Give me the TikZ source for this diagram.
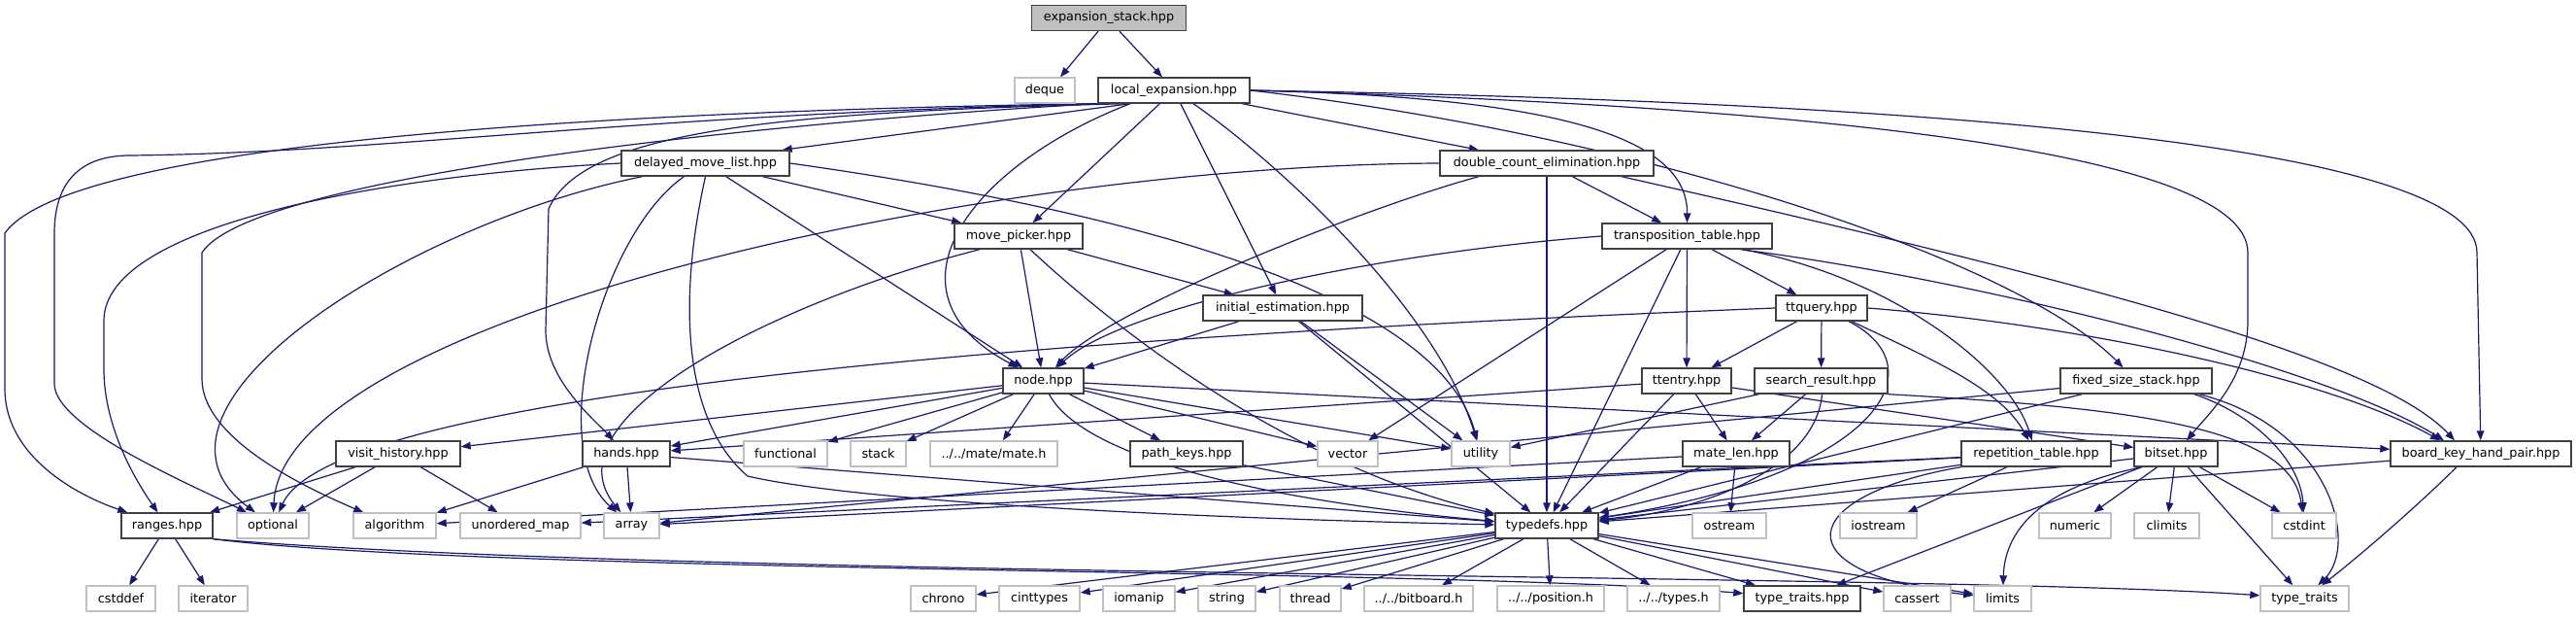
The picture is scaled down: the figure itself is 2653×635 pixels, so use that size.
\documentclass[tikz,border=0pt]{standalone}
\usepackage{fontspec}
\setmainfont{DejaVu Sans}
\usepackage{tikz}
\usetikzlibrary{arrows.meta, backgrounds}
\usepackage{xcolor}
\definecolor{incBlue}{HTML}{191970}
\definecolor{hdrGray}{HTML}{404040}
\definecolor{sysGray}{HTML}{BFBFBF}
\definecolor{rootFill}{HTML}{BFBFBF}

\begin{document}
\begin{tikzpicture}[
    x=1pt, y=-1pt,
    hdr/.style={rectangle, draw=hdrGray, line width=1.4pt, fill=white, minimum height=26pt, inner sep=0pt, font=\fontsize{12.8pt}{15pt}\selectfont},
    sys/.style={hdr, draw=sysGray},
    rootfile/.style={hdr, fill=rootFill},
    dep/.style={draw=incBlue, line width=1.2pt, -{Triangle[length=10pt, width=7.5pt]}},
]
    \useasboundingbox (0,0) rectangle (2653,635);

    \node[rootfile, minimum width=159pt] (es) at (1142,18.5) {expansion\_stack.hpp};
    \node[sys, minimum width=62pt] (deque) at (1076,93) {deque};
    \node[hdr, minimum width=156pt] (le) at (1209,93) {local\_expansion.hpp};
    \node[hdr, minimum width=173pt] (dml) at (726.5,168) {delayed\_move\_list.hpp};
    \node[hdr, minimum width=220pt] (dce) at (1593,168) {double\_count\_elimination.hpp};
    \node[hdr, minimum width=132pt] (mp) at (1049,243) {move\_picker.hpp};
    \node[hdr, minimum width=175pt] (tt) at (1737.5,243) {transposition\_table.hpp};
    \node[hdr, minimum width=164pt] (ie) at (1321,317) {initial\_estimation.hpp};
    \node[hdr, minimum width=94pt] (ttq) at (1876,317) {ttquery.hpp};
    \node[hdr, minimum width=83pt] (nd) at (1074.5,392) {node.hpp};
    \node[hdr, minimum width=92pt] (tte) at (1737,392) {ttentry.hpp};
    \node[hdr, minimum width=137pt] (sr) at (1875.5,392) {search\_result.hpp};
    \node[hdr, minimum width=156pt] (fss) at (2200,392) {fixed\_size\_stack.hpp};
    \node[hdr, minimum width=128pt] (vh) at (410,467) {visit\_history.hpp};
    \node[hdr, minimum width=90pt] (hands) at (645,467) {hands.hpp};
    \node[sys, minimum width=86pt] (functional) at (809,467) {functional};
    \node[sys, minimum width=57pt] (stack) at (904.5,467) {stack};
    \node[sys, minimum width=131pt] (mate) at (1023.5,467) {../../mate/mate.h};
    \node[hdr, minimum width=116pt] (pk) at (1222,467) {path\_keys.hpp};
    \node[sys, minimum width=62pt] (vector) at (1388,467) {vector};
    \node[sys, minimum width=60pt] (utility) at (1525,467) {utility};
    \node[hdr, minimum width=110pt] (ml) at (1788,467) {mate\_len.hpp};
    \node[hdr, minimum width=154pt] (rt) at (2097,467) {repetition\_table.hpp};
    \node[hdr, minimum width=86pt] (bs) at (2241,467) {bitset.hpp};
    \node[hdr, minimum width=186pt] (bkhp) at (2555,467) {board\_key\_hand\_pair.hpp};
    \node[hdr, minimum width=94pt] (rg) at (172,541) {ranges.hpp};
    \node[sys, minimum width=74pt] (optional) at (281,541) {optional};
    \node[sys, minimum width=85pt] (algorithm) at (406.5,541) {algorithm};
    \node[sys, minimum width=124pt] (umap) at (536,541) {unordered\_map};
    \node[sys, minimum width=57pt] (array) at (650.5,541) {array};
    \node[hdr, minimum width=106pt] (td) at (1593,541) {typedefs.hpp};
    \node[sys, minimum width=76pt] (ostream) at (1781,541) {ostream};
    \node[sys, minimum width=79pt] (iostream) at (1934.5,541) {iostream};
    \node[sys, minimum width=74pt] (numeric) at (2137,541) {numeric};
    \node[sys, minimum width=67pt] (climits) at (2231.5,541) {climits};
    \node[sys, minimum width=66pt] (cstdint) at (2373,541) {cstdint};
    \node[sys, minimum width=71pt] (cstddef) at (124.5,616) {cstddef};
    \node[sys, minimum width=71pt] (iterator) at (219.5,616) {iterator};
    \node[sys, minimum width=67pt] (chrono) at (971.5,616) {chrono};
    \node[sys, minimum width=83pt] (cinttypes) at (1070.5,616) {cinttypes};
    \node[sys, minimum width=74pt] (iomanip) at (1173,616) {iomanip};
    \node[sys, minimum width=59pt] (string) at (1263.5,616) {string};
    \node[sys, minimum width=63pt] (thread) at (1349.5,616) {thread};
    \node[sys, minimum width=112pt] (bitboard) at (1461,616) {../../bitboard.h};
    \node[sys, minimum width=110pt] (position) at (1597,616) {../../position.h};
    \node[sys, minimum width=95pt] (types) at (1723.5,616) {../../types.h};
    \node[hdr, minimum width=120pt] (tth) at (1856,616) {type\_traits.hpp};
    \node[sys, minimum width=69pt] (cassert) at (1974.5,616) {cassert};
    \node[sys, minimum width=59pt] (limits) at (2062.5,616) {limits};
    \node[sys, minimum width=91pt] (typetraits) at (2373.5,616) {type\_traits};

    \begin{scope}[on background layer]
    \fill[white] (0,0) rectangle (2653,635);
    % expansion_stack.hpp
    \draw[dep] ([xshift=-11pt]es.south) -- ([xshift=16pt]deque.north);
    \draw[dep] ([xshift=11pt]es.south) -- ([xshift=-12pt]le.north);
    % local_expansion.hpp
    \draw[dep] (le.south west) .. controls (700,113) and (76,140) .. (5,240) -- (5,400) .. controls (5,470) and (80,510) .. (rg);
    \draw[dep] (le.south west) .. controls (650,118) and (400,157) .. (134,160) .. controls (80,160) and (56,190) .. (56,240) -- (56,395) .. controls (56,440) and (200,500) .. (optional);
    \draw[dep] (le.south west) .. controls (800,125) and (260,180) .. (208,260) -- (208,390) .. controls (208,450) and (310,500) .. (algorithm);
    \draw[dep] ([xshift=-48pt]le.south) .. controls (800,115) and (600,135) .. (565,215) -- (562,340) .. controls (562,390) and (610,430) .. (hands);
    \draw[dep] ([xshift=-45pt]le.south) -- ([xshift=-8pt]dml.north east);
    \draw[dep] ([xshift=-45pt]le.south) .. controls (1000,170) and (900,300) .. (nd);
    \draw[dep] (le) -- (mp);
    \draw[dep] (le) -- (ie);
    \draw[dep] ([xshift=20pt]le.south) .. controls (1320,170) and (1480,320) .. (utility);
    \draw[dep] (le) -- (dce);
    \draw[dep] (le.east) .. controls (1600,100) and (1738,140) .. (tt);
    \draw[dep] (le.east) .. controls (1700,140) and (2080,270) .. (fss);
    \draw[dep] (le.east) .. controls (1900,110) and (2315,160) .. (2315,260) -- (2315,330) .. controls (2315,390) and (2275,425) .. (bs);
    \draw[dep] (le.east) .. controls (2000,105) and (2551,150) .. (2551,260) -- (bkhp);
    % delayed_move_list.hpp
    \draw[dep] (dml.west) .. controls (400,180) and (107,230) .. (107,330) -- (107,380) .. controls (107,440) and (140,495) .. (rg);
    \draw[dep] ([xshift=-65pt]dml.south) .. controls (420,230) and (120,420) .. (optional);
    \draw[dep] ([xshift=-22pt]dml.south) .. controls (620,240) and (560,460) .. (array);
    \draw[dep] (dml) -- (nd);
    \draw[dep] (dml) -- (mp);
    \draw[dep] (dml.south) .. controls (700,300) and (700,430) .. (770,490) .. controls (900,520) and (1300,535) .. (td);
    \draw[dep] (dml.east) .. controls (1150,215) and (1480,300) .. (utility);
    % move_picker.hpp
    \draw[dep] ([xshift=-40pt]mp.south) .. controls (800,310) and (560,430) .. (array);
    \draw[dep] (mp) -- (nd);
    \draw[dep] ([xshift=12pt]mp.south) .. controls (1150,340) and (1330,480) .. (td);
    \draw[dep] (mp) -- (ie);
    % initial_estimation.hpp
    \draw[dep] (ie) -- (nd);
    \draw[dep] (ie) -- (utility);
    \draw[dep] (ie) -- (td);
    % double_count_elimination.hpp
    \draw[dep] (dce.west) .. controls (1000,170) and (290,330) .. (optional);
    \draw[dep] ([xshift=-70pt]dce.south) .. controls (1400,215) and (1140,320) .. (nd);
    \draw[dep] (dce) -- (td);
    \draw[dep] (dce) -- (tt);
    \draw[dep] ([xshift=77pt]dce.south) .. controls (2150,290) and (2450,370) .. ([xshift=-27pt]bkhp.north);
    % transposition_table.hpp
    \draw[dep] (tt.west) .. controls (1400,262) and (1150,320) .. (nd);
    \draw[dep] (tt) -- (vector);
    \draw[dep] (tt) -- (td);
    \draw[dep] (tt) -- (tte);
    \draw[dep] (tt) -- (ttq);
    \draw[dep] ([xshift=57pt]tt.south) .. controls (1950,285) and (2070,380) .. (rt);
    \draw[dep] ([xshift=55pt]tt.south) .. controls (2050,290) and (2400,380) .. ([xshift=-38pt]bkhp.north);
    % ttquery.hpp
    \draw[dep] (ttq.west) .. controls (1000,350) and (340,410) .. (optional);
    \draw[dep] (ttq) -- (tte);
    \draw[dep] (ttq) -- (sr);
    \draw[dep] ([xshift=28pt]ttq.south) .. controls (2000,380) and (1930,490) .. (td);
    \draw[dep] ([xshift=31pt]ttq.south) .. controls (1990,370) and (2060,400) .. (rt);
    \draw[dep] (ttq.east) .. controls (2150,335) and (2400,390) .. ([xshift=-42pt]bkhp.north);
    % ttentry.hpp
    \draw[dep] (tte) -- (hands);
    \draw[dep] (tte) -- (td);
    \draw[dep] (tte) -- (ml);
    \draw[dep] (tte) -- (bs);
    % search_result.hpp
    \draw[dep] (sr) -- (utility);
    \draw[dep] (sr) -- (ml);
    \draw[dep] ([xshift=1pt]sr.south) .. controls (1870,480) and (1760,525) .. (td);
    \draw[dep] (sr.south east) .. controls (2200,420) and (2360,440) .. (cstdint);
    % mate_len.hpp
    \draw[dep] (ml) -- (algorithm);
    \draw[dep] (ml) -- (ostream);
    \draw[dep] (ml) -- (td);
    % node.hpp
    \draw[dep] (nd) -- (vh);
    \draw[dep] (nd) -- (hands);
    \draw[dep] (nd) -- (functional);
    \draw[dep] (nd) -- (stack);
    \draw[dep] (nd) -- (mate);
    \draw[dep] ([xshift=6pt]nd.south) .. controls (1120,480) and (1350,520) .. (td);
    \draw[dep] (nd) -- (pk);
    \draw[dep] (nd) -- (vector);
    \draw[dep] (nd) -- (utility);
    \draw[dep] (nd) -- (bkhp);
    % visit_history.hpp
    \draw[dep] (vh) -- (rg);
    \draw[dep] (vh) -- (optional);
    \draw[dep] (vh) -- (umap);
    % hands.hpp
    \draw[dep] (hands) -- (algorithm);
    \draw[dep] (hands) -- (array);
    \draw[dep] (hands) -- (td);
    % path_keys.hpp
    \draw[dep] (pk) -- (td);
    % repetition_table.hpp
    \draw[dep] (rt) -- (umap);
    \draw[dep] (rt) -- (array);
    \draw[dep] (rt) -- (td);
    \draw[dep] (rt) -- (iostream);
    \draw[dep] (rt.south west) .. controls (1850,510) and (1830,590) .. (limits);
    % bitset.hpp
    \draw[dep] (bs) -- (td);
    \draw[dep] (bs) -- (tth);
    \draw[dep] ([xshift=-35pt]bs.south) .. controls (2110,500) and (2065,540) .. (limits);
    \draw[dep] (bs) -- (numeric);
    \draw[dep] (bs) -- (climits);
    \draw[dep] (bs) -- (typetraits);
    \draw[dep] (bs) -- (cstdint);
    % board_key_hand_pair.hpp
    \draw[dep] (bkhp) -- (td);
    \draw[dep] ([xshift=-25pt]bkhp.south) .. controls (2480,530) and (2420,580) .. (typetraits);
    % fixed_size_stack.hpp
    \draw[dep] (fss) -- (array);
    \draw[dep] (fss) -- (td);
    \draw[dep] ([xshift=60pt]fss.south) .. controls (2330,430) and (2370,480) .. (cstdint);
    \draw[dep] ([xshift=65pt]fss.south) .. controls (2400,440) and (2430,560) .. (typetraits);
    % ranges.hpp
    \draw[dep] (rg) -- (cstddef);
    \draw[dep] (rg) -- (iterator);
    \draw[dep] (rg.south east) .. controls (500,590) and (1500,585) .. (tth);
    \draw[dep] (rg.south east) .. controls (700,595) and (2000,590) .. (typetraits);
    % typedefs.hpp
    \draw[dep] (td) -- (chrono);
    \draw[dep] (td) -- (cinttypes);
    \draw[dep] (td) -- (iomanip);
    \draw[dep] (td) -- (string);
    \draw[dep] (td) -- (thread);
    \draw[dep] (td) -- (bitboard);
    \draw[dep] (td) -- (position);
    \draw[dep] (td) -- (types);
    \draw[dep] (td) -- (tth);
    \draw[dep] (td) -- (cassert);
    \draw[dep] (td) -- (limits);
    \end{scope}
\end{tikzpicture}
\end{document}
